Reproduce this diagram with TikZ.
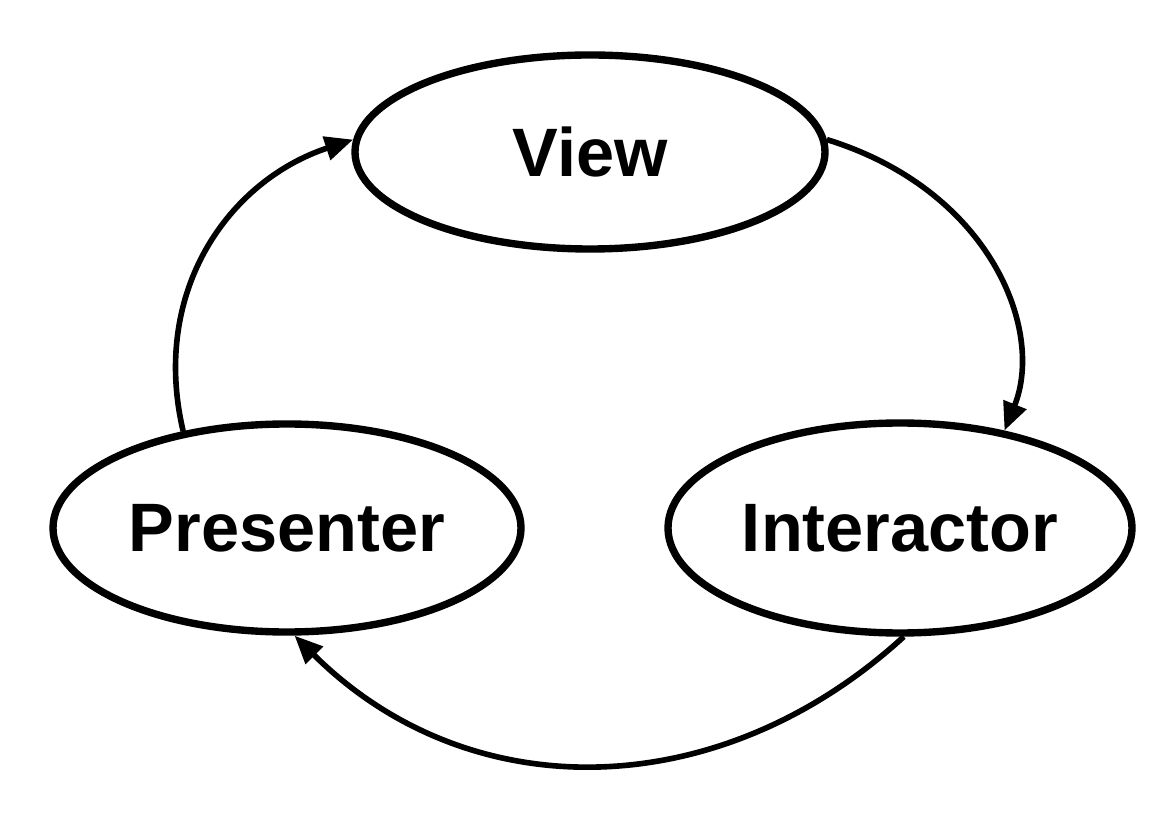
\documentclass[tikz,border=0pt]{standalone}
\usepackage{fontspec}
\setmainfont{Liberation Sans}
\usetikzlibrary{shapes.geometric,arrows.meta}
\begin{document}
\begin{tikzpicture}[x=0.02cm,y=-0.02cm,
  oval/.style={draw,ellipse,line width=4.2pt,inner sep=0pt,font=\fontsize{39}{44}\selectfont\bfseries},
  flow/.style={line width=3.2pt,-{Triangle[length=16pt,width=13.5pt]}}]
\useasboundingbox (0,0) rectangle (1172,830);
\node[oval,minimum width=470*0.02cm,minimum height=194*0.02cm] (v) at (590,152) {View};
\node[oval,minimum width=468*0.02cm,minimum height=208*0.02cm] (p) at (287,528) {Presenter};
\node[oval,minimum width=464*0.02cm,minimum height=210*0.02cm] (i) at (900,528) {Interactor};
\draw[flow] (v.3) .. controls (990,190) and (1045,330) .. (i.43);
\draw[flow] (i.-88) .. controls (720,805) and (470,810) .. (p.-86);
\draw[flow] (p.137) .. controls (150,290) and (230,180) .. (v.177);
\end{tikzpicture}
\end{document}
